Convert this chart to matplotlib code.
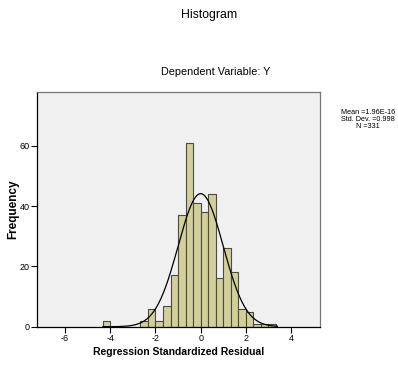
import numpy as np
import matplotlib.pyplot as plt

# bin left edges (width 1/3) and counts
bin_left = [-13, -8, -7, -6, -5, -4, -3, -2, -1, 0, 1, 2, 3, 4, 5, 6, 7, 8, 9]
counts = [2, 2, 6, 2, 7, 17, 37, 61, 41, 38, 44, 16, 26, 18, 6, 5, 1, 1, 1]
bin_width = 1.0 / 3.0

mean = 1.96e-16
std = 0.998
n = 331

xticks = [-6, -4, -2, 0, 2, 4]
yticks = [0, 20, 40, 60]

narrow = ['Liberation Sans Narrow', 'Liberation Sans', 'DejaVu Sans']
sans = ['Liberation Sans', 'DejaVu Sans']

fig = plt.figure(figsize=(3.98, 3.66), dpi=100)
ax = fig.add_axes([0.0922, 0.1074, 0.7116, 0.6412])
ax.set_facecolor('#F0F0F0')

lefts = np.array(bin_left) * bin_width
ax.bar(lefts, counts, width=bin_width, align='edge', color='#D3CF98',
       edgecolor='#4a4a4a', linewidth=0.8)

# fitted normal curve from the stated mean / std / N
xs = np.linspace(-4.33, 3.4, 300)
ys = n * bin_width * np.exp(-0.5 * ((xs - mean) / std) ** 2) / (std * np.sqrt(2 * np.pi))
ax.plot(xs, ys, color='black', linewidth=0.9)

ax.set_xlim(-7.26, 5.28)
ax.set_ylim(0, 77.8)
ax.set_xticks(xticks)
ax.set_yticks(yticks)
ax.set_xticklabels([str(t) for t in xticks], family=narrow, fontsize=6.5)
ax.set_yticklabels([str(t) for t in yticks], family=narrow, fontsize=6.5)
ax.tick_params(length=4, width=0.8, color='black', pad=1)

for s in ['top', 'right']:
    ax.spines[s].set_color('#777777')
for s in ['left', 'bottom']:
    ax.spines[s].set_color('black')
for s in ax.spines.values():
    s.set_linewidth(0.9)

fig.text(178.5 / 398, 1 - 352 / 366, 'Regression Standardized Residual',
         family=sans, fontsize=7.5, fontweight='bold', ha='center', va='center')
fig.text(13 / 398, 1 - 209 / 366, 'Frequency', family=sans, fontsize=8.5,
         fontweight='bold', rotation=90, ha='center', va='center')

fig.text(209 / 398, 1 - 15 / 366, 'Histogram', family=sans, fontsize=8.8,
         ha='center', va='center')
fig.text(216 / 398, 1 - 71.7 / 366, 'Dependent Variable: Y', family=sans,
         fontsize=7.8, ha='center', va='center')
fig.text(368 / 398, 1 - 119.5 / 366,
         'Mean =1.96E-16\nStd. Dev. =0.998\nN =331',
         family=narrow, fontsize=5.2, ha='center', va='center',
         linespacing=0.95)

fig.savefig('out.png', dpi=100)
